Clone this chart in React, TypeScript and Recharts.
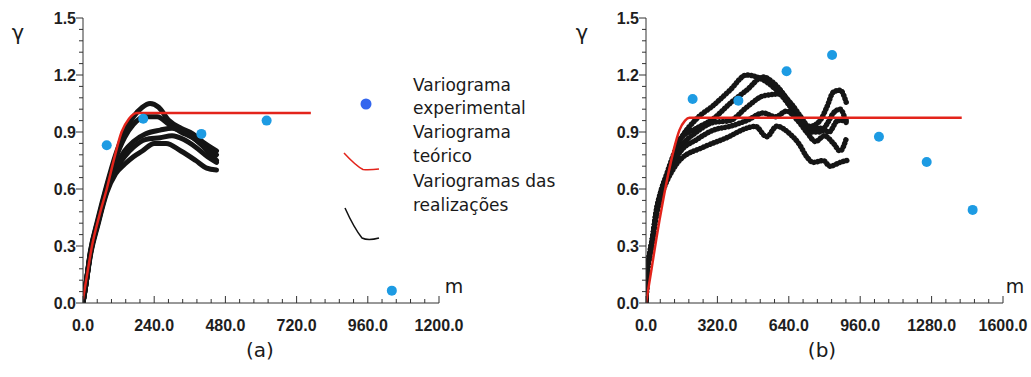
import React from 'react';
import { ComposedChart, Line, Scatter, XAxis, YAxis } from 'recharts';

// ---- data (a) ----
const expA: [number, number][] = [[80, 0.83], [203, 0.97], [399, 0.89], [619, 0.96], [1041, 0.065]];
const teoA: [number, number][] = [[0, 0.02], [15, 0.16], [29, 0.29], [55, 0.46], [80, 0.6], [105, 0.76], [130, 0.9], [155, 0.97], [182, 1.0], [768, 1.0]];
const realA1: [number, number][] = [[0, 0], [10, 0.1], [25, 0.27], [50, 0.44], [80, 0.62], [110, 0.78], [140, 0.9], [170, 0.98], [200, 1.03], [226, 1.05], [255, 1.03], [290, 0.96], [330, 0.92], [370, 0.89], [410, 0.84], [450, 0.8]];
const realA2: [number, number][] = [[0, 0], [10, 0.1], [25, 0.27], [50, 0.43], [80, 0.61], [110, 0.76], [140, 0.87], [170, 0.94], [210, 0.98], [250, 0.98], [290, 0.94], [330, 0.9], [370, 0.87], [410, 0.82], [450, 0.78]];
const realA3: [number, number][] = [[0, 0], [10, 0.1], [25, 0.26], [50, 0.42], [80, 0.6], [110, 0.72], [140, 0.8], [170, 0.85], [210, 0.89], [260, 0.91], [300, 0.92], [340, 0.9], [380, 0.86], [420, 0.8], [450, 0.75]];
const realA4: [number, number][] = [[0, 0], [10, 0.1], [25, 0.26], [50, 0.42], [80, 0.59], [110, 0.7], [140, 0.77], [170, 0.82], [210, 0.86], [260, 0.87], [300, 0.88], [340, 0.86], [380, 0.82], [420, 0.77], [450, 0.74]];
const realA5: [number, number][] = [[0, 0], [10, 0.1], [25, 0.25], [50, 0.41], [80, 0.58], [110, 0.68], [140, 0.73], [170, 0.77], [200, 0.8], [240, 0.84], [280, 0.84], [330, 0.8], [380, 0.75], [417, 0.71], [450, 0.7]];

// ---- data (b) ----
const expB: [number, number][] = [[209, 1.074], [414, 1.065], [630, 1.22], [834, 1.305], [1044, 0.875], [1258, 0.742], [1464, 0.49]];
const teoB: [number, number][] = [[0, 0], [25, 0.18], [48, 0.35], [75, 0.53], [100, 0.68], [125, 0.81], [150, 0.91], [175, 0.96], [195, 0.975], [1415, 0.975]];
const realB1: [number, number][] = [[0, 0], [6, 0.17], [18, 0.27], [30, 0.35], [45, 0.48], [70, 0.6], [93, 0.68], [120, 0.77], [150, 0.85], [227, 0.97], [302, 1.04], [376, 1.12], [451, 1.2], [496, 1.19], [556, 1.15], [616, 1.08], [660, 1.01], [690, 0.96], [735, 0.93], [780, 0.96], [810, 1.03], [840, 1.11], [870, 1.12], [899, 1.05]];
const realB2: [number, number][] = [[0, 0], [6, 0.17], [18, 0.27], [30, 0.35], [45, 0.47], [70, 0.6], [93, 0.67], [120, 0.76], [150, 0.86], [227, 0.92], [302, 0.97], [376, 1.05], [451, 1.12], [526, 1.19], [570, 1.16], [616, 1.1], [660, 1.02], [700, 0.95], [735, 0.9], [780, 0.9], [810, 0.94], [840, 1.0], [870, 1.02], [899, 0.94]];
const realB3: [number, number][] = [[0, 0], [6, 0.16], [18, 0.26], [30, 0.34], [45, 0.47], [70, 0.59], [93, 0.66], [120, 0.74], [150, 0.81], [227, 0.9], [302, 0.95], [376, 0.96], [451, 1.03], [526, 1.09], [600, 1.1], [650, 1.05], [700, 0.97], [735, 0.92], [780, 0.92], [820, 0.9], [860, 0.96], [899, 0.96]];
const realB4: [number, number][] = [[0, 0], [6, 0.16], [18, 0.26], [30, 0.34], [45, 0.46], [70, 0.58], [93, 0.65], [120, 0.72], [150, 0.79], [227, 0.86], [302, 0.91], [376, 0.93], [451, 0.96], [526, 1.0], [580, 0.98], [630, 1.01], [680, 0.96], [720, 0.9], [760, 0.85], [800, 0.88], [840, 0.84], [870, 0.8], [899, 0.87]];
const realB5: [number, number][] = [[0, 0], [6, 0.16], [18, 0.25], [30, 0.33], [45, 0.45], [70, 0.57], [93, 0.64], [120, 0.7], [150, 0.75], [257, 0.82], [362, 0.87], [451, 0.92], [490, 0.93], [541, 0.875], [586, 0.93], [645, 0.89], [690, 0.83], [720, 0.77], [750, 0.74], [794, 0.75], [825, 0.72], [870, 0.74], [900, 0.75]];

// ---- axis ticks ----
const yMajor = [0, 0.3, 0.6, 0.9, 1.2, 1.5];
const xMajorA = [0, 240, 480, 720, 960, 1200];
const xMajorB = [0, 320, 640, 960, 1280, 1600];

const steps = (max: number, step: number) =>
  Array.from({ length: Math.round(max / step) + 1 }, (_, i) => +(i * step).toFixed(4));

const pts = (arr: [number, number][]) => arr.map(([x, y]) => ({ x, y }));

const AXIS = '#333';
const RED = '#e3241b';
const BLUE = '#1d9be3';
const TICK_FONT = { fontFamily: '"Liberation Sans", Arial, sans-serif', fontWeight: 700, fontSize: 16, fill: '#1e1e1e' };

const isMajor = (majors: number[], v: number) => majors.some((m) => Math.abs(m - v) < 1e-6);

const makeXTick = (majors: number[]) => (props: any) => {
  const { x, y, payload } = props;
  const major = isMajor(majors, payload.value);
  return (
    <g>
      <line x1={x} x2={x} y1={y} y2={y - (major ? 7 : 4)} stroke={AXIS} strokeWidth={1} />
      {major && (
        <text x={x} y={y + 28} textAnchor="middle" style={TICK_FONT}>
          {payload.value.toFixed(1)}
        </text>
      )}
    </g>
  );
};

const makeYTick = (majors: number[]) => (props: any) => {
  const { x, y, payload } = props;
  const major = isMajor(majors, payload.value);
  return (
    <g>
      <line x1={x - (major ? 7 : 4)} x2={x} y1={y} y2={y} stroke={AXIS} strokeWidth={1} />
      {major && (
        <text x={x - 7} y={y + 6} textAnchor="end" style={TICK_FONT}>
          {payload.value.toFixed(1)}
        </text>
      )}
    </g>
  );
};

interface PanelProps {
  left: number;
  width: number;
  originX: number;
  endX: number;
  xMax: number;
  xMajors: number[];
  xStep: number;
  teo: [number, number][];
  exp: [number, number][];
  reals: [number, number][][];
  dotted?: boolean;
}

function Panel({ left, width, originX, endX, xMax, xMajors, xStep, teo, exp, reals, dotted }: PanelProps) {
  return (
    <div style={{ position: 'absolute', left, top: 0 }}>
      <ComposedChart
        width={width}
        height={377}
        margin={{ top: 18, right: left + width - endX, left: originX - left - 50, bottom: 44 }}
      >
        <XAxis
          type="number"
          dataKey="x"
          domain={[0, xMax]}
          ticks={steps(xMax, xStep)}
          interval={0}
          tickSize={0}
          tickMargin={0}
          tickLine={false}
          axisLine={{ stroke: AXIS }}
          tick={makeXTick(xMajors)}
          height={30}
          allowDataOverflow
        />
        <YAxis
          type="number"
          dataKey="y"
          domain={[0, 1.5]}
          ticks={steps(1.5, 0.06)}
          interval={0}
          tickSize={0}
          tickMargin={0}
          tickLine={false}
          axisLine={{ stroke: AXIS }}
          tick={makeYTick(yMajor)}
          width={50}
          allowDataOverflow
        />
        {reals.map((r, i) => (
          <Line
            key={i}
            data={pts(r)}
            dataKey="y"
            type="monotone"
            stroke="#151515"
            strokeWidth={dotted ? 5.5 : 5}
            strokeDasharray={dotted ? '0.1 3.5' : undefined}
            strokeLinecap="round"
            dot={false}
            isAnimationActive={false}
          />
        ))}
        <Line
          data={pts(teo)}
          dataKey="y"
          type="monotone"
          stroke={RED}
          strokeWidth={2.5}
          dot={false}
          isAnimationActive={false}
        />
        <Scatter
          data={pts(exp)}
          dataKey="y"
          fill={BLUE}
          shape={(p: any) => <circle cx={p.cx} cy={p.cy} r={5} fill={BLUE} />}
          isAnimationActive={false}
        />
      </ComposedChart>
    </div>
  );
}

export default function App() {
  const label = { fontFamily: '"DejaVu Sans", Verdana, sans-serif', fill: '#1a1a1a' };
  return (
    <div style={{ position: 'absolute', left: 0, top: 0, width: 1031, height: 377, background: '#fff', overflow: 'hidden' }}>
      <Panel
        left={0}
        width={470}
        originX={83}
        endX={439}
        xMax={1200}
        xMajors={xMajorA}
        xStep={48}
        teo={teoA}
        exp={expA}
        reals={[realA1, realA2, realA3, realA4, realA5]}
      />
      <Panel
        left={560}
        width={471}
        originX={646}
        endX={1003}
        xMax={1600}
        xMajors={xMajorB}
        xStep={64}
        teo={teoB}
        exp={expB}
        reals={[realB1, realB2, realB3, realB4, realB5]}
        dotted
      />
      <svg width={1031} height={377} style={{ position: 'absolute', left: 0, top: 0, pointerEvents: 'none' }}>
        <text x={18} y={40} textAnchor="middle" style={{ ...label, fontSize: 21 }}>γ</text>
        <text x={582} y={40} textAnchor="middle" style={{ ...label, fontSize: 21 }}>γ</text>
        <text x={454} y={293} textAnchor="middle" style={{ ...label, fontSize: 19 }}>m</text>
        <text x={1015} y={293} textAnchor="middle" style={{ ...label, fontSize: 19 }}>m</text>
        <text x={260} y={357} textAnchor="middle" style={{ ...label, fontSize: 20 }}>(a)</text>
        <text x={822} y={357} textAnchor="middle" style={{ ...label, fontSize: 20 }}>(b)</text>

        <circle cx={366} cy={104} r={5.5} fill="#3366ee" />
        <path d="M344 153 Q356 166 363 169.5 Q370 170 379 169" fill="none" stroke={RED} strokeWidth={1.5} />
        <path d="M345 208 Q354 228 362 238 Q368 241 379 238" fill="none" stroke="#111" strokeWidth={1.5} />

        <g style={{ ...label, fontSize: 17 }}>
          <text x={413} y={91}>Variograma</text>
          <text x={413} y={114}>experimental</text>
          <text x={413} y={138}>Variograma</text>
          <text x={413} y={162}>teórico</text>
          <text x={413} y={187}>Variogramas das</text>
          <text x={413} y={211}>realizações</text>
        </g>
      </svg>
    </div>
  );
}
